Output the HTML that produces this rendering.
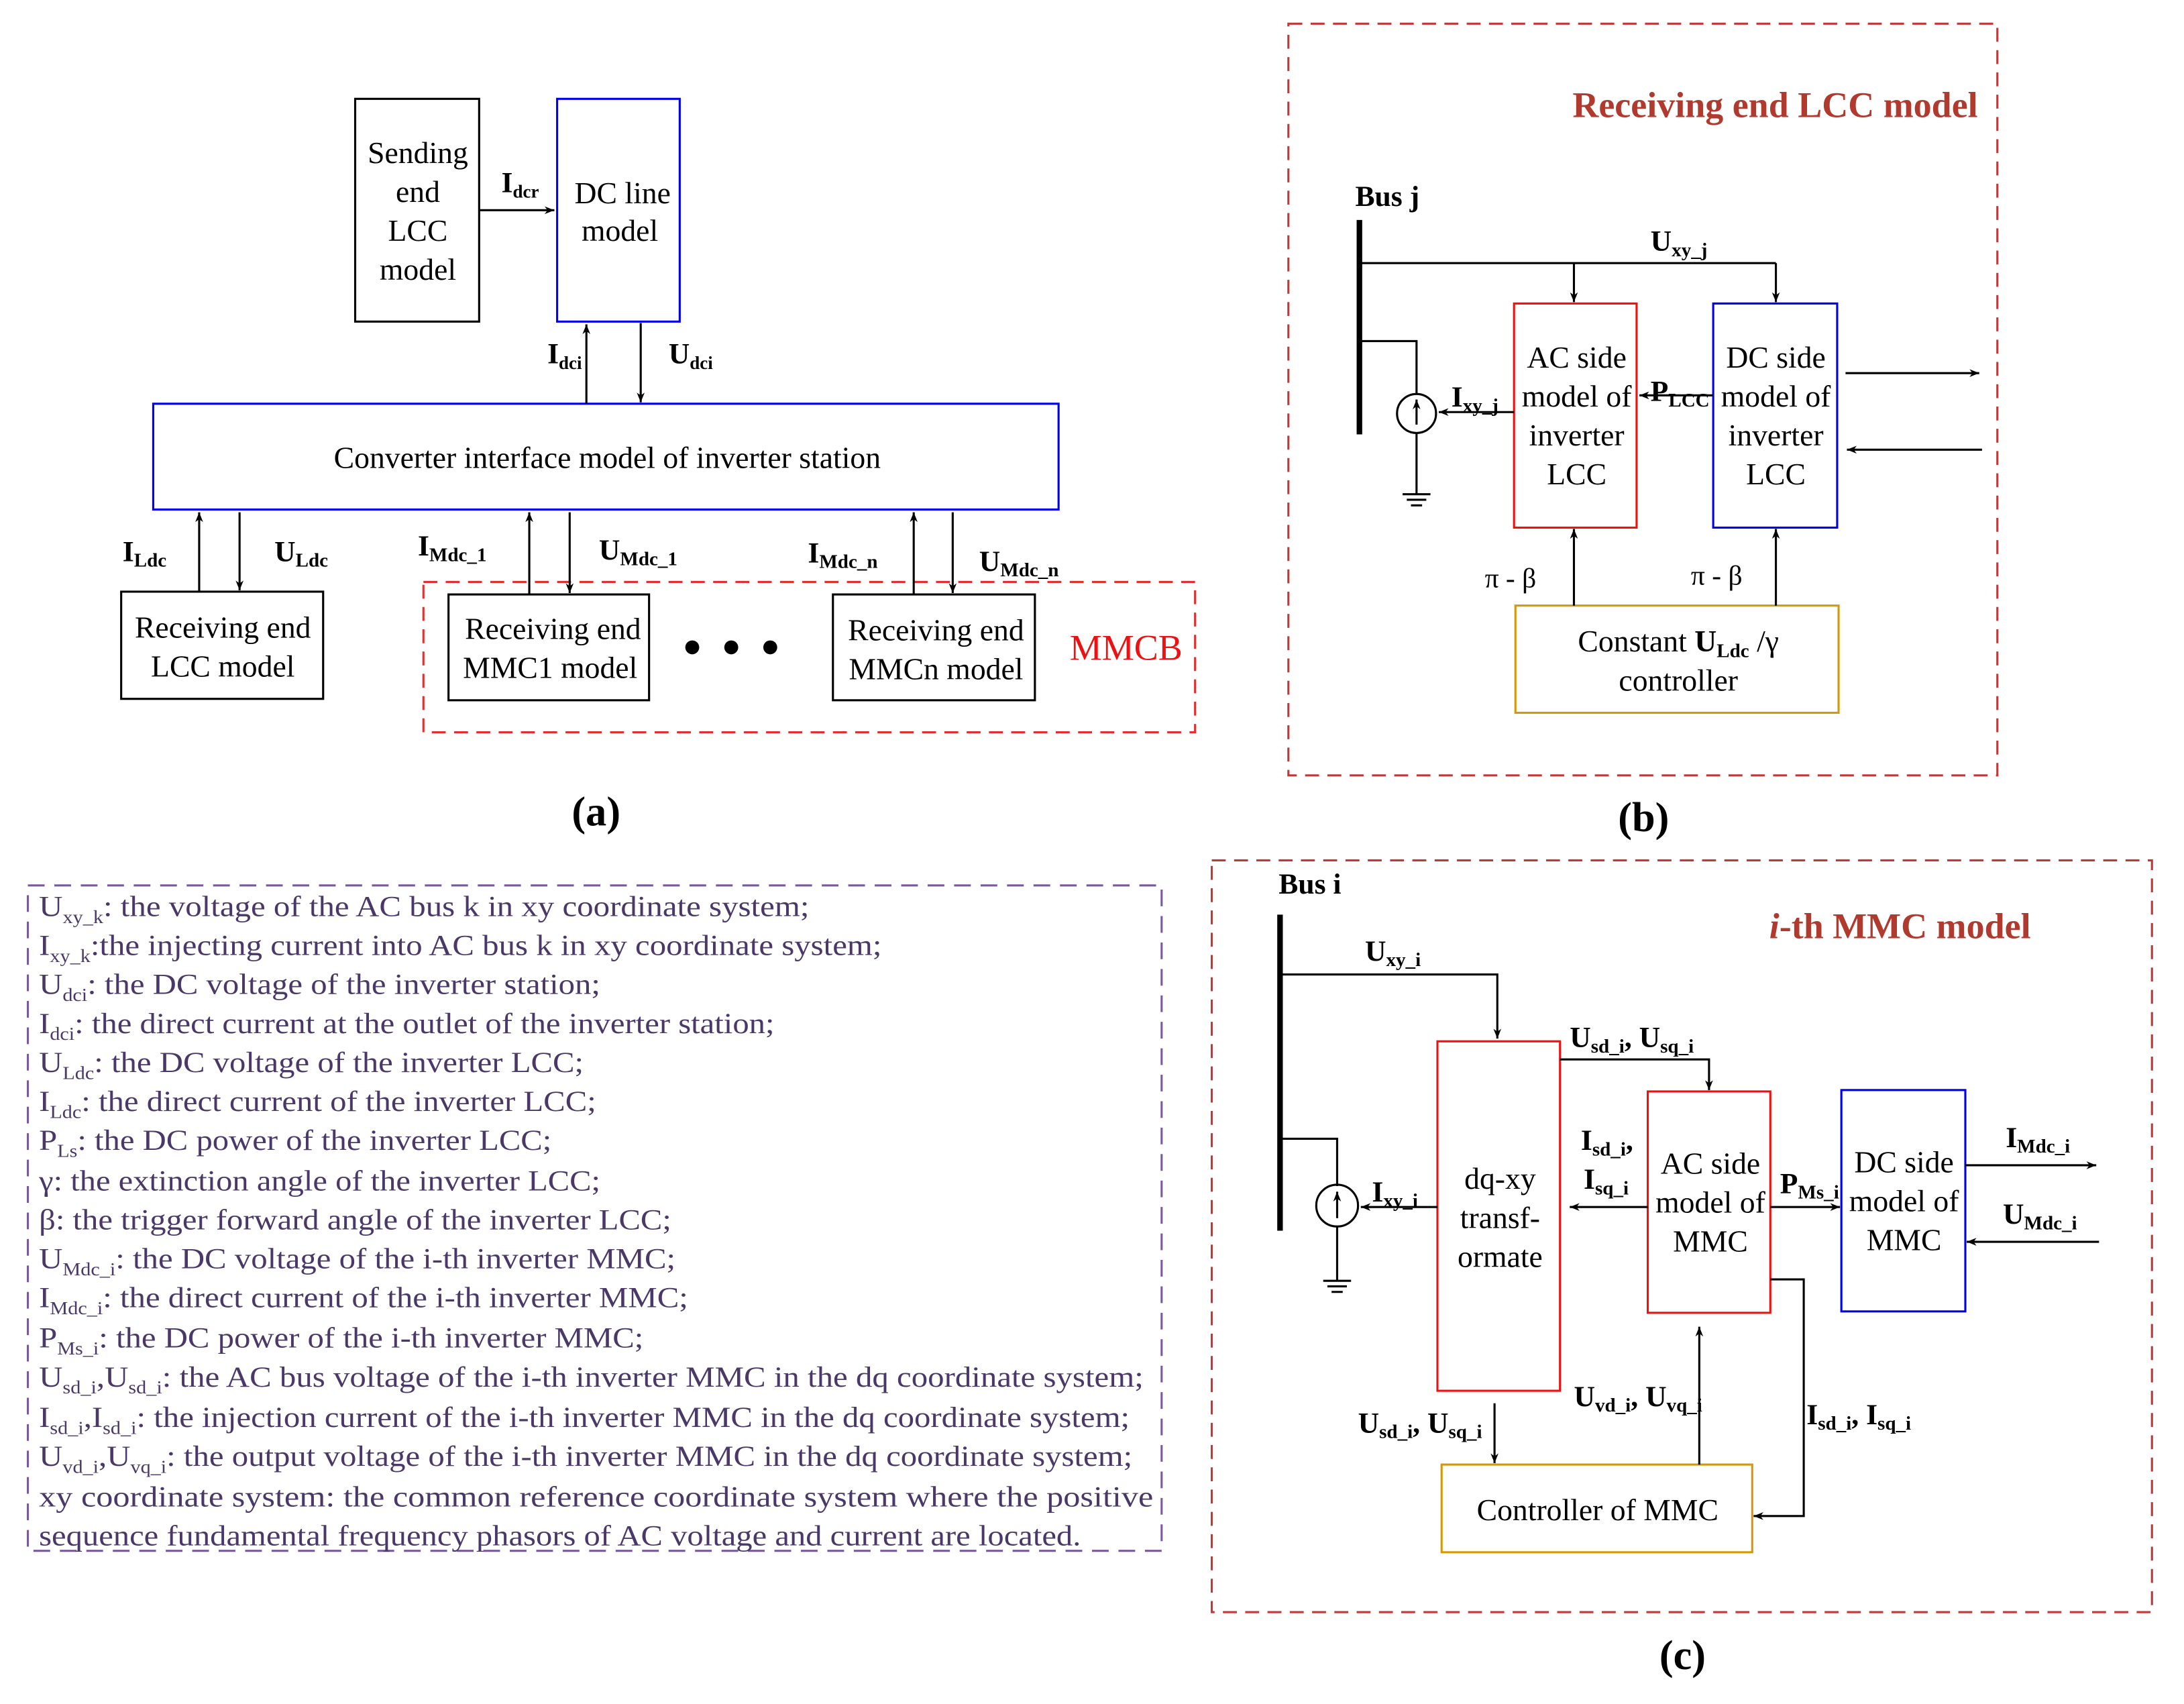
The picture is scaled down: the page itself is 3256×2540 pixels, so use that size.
<!DOCTYPE html>
<html><head><meta charset="utf-8"><style>
html,body{margin:0;padding:0;background:#fff}
svg{display:block}
text{font-family:"Liberation Serif",serif}
.b{font-weight:bold}
</style></head><body>
<svg width="3256" height="2540" viewBox="0 0 1568 1224" preserveAspectRatio="none" xmlns="http://www.w3.org/2000/svg">
<defs>
<marker id="ar" viewBox="0 0 10 10" refX="10" refY="5" markerWidth="7" markerHeight="7" orient="auto" markerUnits="userSpaceOnUse"><path d="M0,1 L10,5 L0,9 L3,5 z" fill="#000"/></marker>
</defs>
<g fill="none" stroke="#000" stroke-width="1.5">
<rect x="255" y="71" width="89" height="160"/>
<rect x="400" y="71" width="88" height="160" stroke="#0000ee"/>
<line x1="344" y1="151" x2="398" y2="151" marker-end="url(#ar)"/>
<rect x="110" y="290" width="650" height="76" stroke="#0000ee"/>
<line x1="421" y1="290" x2="421" y2="233" marker-end="url(#ar)"/>
<line x1="460" y1="232" x2="460" y2="289" marker-end="url(#ar)"/>
<rect x="87" y="425" width="145" height="77"/>
<line x1="143" y1="425" x2="143" y2="368" marker-end="url(#ar)"/>
<line x1="172" y1="368" x2="172" y2="424" marker-end="url(#ar)"/>
<rect x="304" y="418" width="554" height="108" stroke="#e03030" stroke-dasharray="10,6"/>
<rect x="322" y="427" width="144" height="76"/>
<line x1="380" y1="427" x2="380" y2="368" marker-end="url(#ar)"/>
<line x1="409" y1="368" x2="409" y2="426" marker-end="url(#ar)"/>
<rect x="598" y="427" width="145" height="76"/>
<line x1="656" y1="427" x2="656" y2="368" marker-end="url(#ar)"/>
<line x1="684" y1="368" x2="684" y2="426" marker-end="url(#ar)"/>
<rect x="925" y="17" width="509" height="540" stroke="#c03838" stroke-dasharray="10,6"/>
<line x1="976" y1="158" x2="976" y2="312" stroke-width="4"/>
<polyline points="976,189 1275,189"/>
<line x1="1130" y1="189" x2="1130" y2="217" marker-end="url(#ar)"/>
<line x1="1275" y1="189" x2="1275" y2="217" marker-end="url(#ar)"/>
<rect x="1087" y="218" width="88" height="161" stroke="#ee1111"/>
<rect x="1230" y="218" width="89" height="161" stroke="#0000ee"/>
<line x1="1230" y1="284" x2="1177" y2="284" marker-end="url(#ar)"/>
<polyline points="976,245 1017,245 1017,283"/>
<circle cx="1017" cy="297" r="14"/>
<line x1="1017" y1="305" x2="1017" y2="287" marker-end="url(#ar)"/>
<line x1="1017" y1="311" x2="1017" y2="355"/>
<line x1="1007" y1="355" x2="1027" y2="355"/><line x1="1010" y1="359" x2="1024" y2="359"/><line x1="1013" y1="363" x2="1021" y2="363"/>
<line x1="1087" y1="296" x2="1033" y2="296" marker-end="url(#ar)"/>
<line x1="1325" y1="268" x2="1421" y2="268" marker-end="url(#ar)"/>
<line x1="1423" y1="323" x2="1326" y2="323" marker-end="url(#ar)"/>
<rect x="1088" y="435" width="232" height="77" stroke="#d4980a"/>
<line x1="1130" y1="435" x2="1130" y2="380" marker-end="url(#ar)"/>
<line x1="1275" y1="435" x2="1275" y2="380" marker-end="url(#ar)"/>
<rect x="870" y="618" width="675" height="540" stroke="#c03838" stroke-dasharray="10,6"/>
<line x1="919" y1="657" x2="919" y2="884" stroke-width="4"/>
<polyline points="919,700 1075,700 1075,746" marker-end="url(#ar)"/>
<rect x="1032" y="748" width="88" height="251" stroke="#ee1111"/>
<polyline points="1120,761 1227,761 1227,783" marker-end="url(#ar)"/>
<rect x="1183" y="784" width="88" height="159" stroke="#ee1111"/>
<rect x="1322" y="783" width="89" height="159" stroke="#0000ee"/>
<line x1="1183" y1="867" x2="1127" y2="867" marker-end="url(#ar)"/>
<line x1="1271" y1="867" x2="1321" y2="867" marker-end="url(#ar)"/>
<line x1="1411" y1="837" x2="1505" y2="837" marker-end="url(#ar)"/>
<line x1="1507" y1="892" x2="1412" y2="892" marker-end="url(#ar)"/>
<polyline points="919,818 960,818 960,852"/>
<circle cx="960" cy="866" r="15"/>
<line x1="960" y1="875" x2="960" y2="856" marker-end="url(#ar)"/>
<line x1="960" y1="881" x2="960" y2="920"/>
<line x1="950" y1="920" x2="970" y2="920"/><line x1="953" y1="924" x2="967" y2="924"/><line x1="956" y1="928" x2="964" y2="928"/>
<line x1="1032" y1="867" x2="977" y2="867" marker-end="url(#ar)"/>
<rect x="1035" y="1052" width="223" height="63" stroke="#d4980a"/>
<line x1="1073" y1="1008" x2="1073" y2="1051" marker-end="url(#ar)"/>
<line x1="1220" y1="1052" x2="1220" y2="953" marker-end="url(#ar)"/>
<polyline points="1271,919 1295,919 1295,1089 1259,1089" marker-end="url(#ar)"/>
<rect x="20" y="636" width="814" height="478" stroke="#7a5a9a" stroke-dasharray="12,7"/>
</g>
<circle cx="497" cy="465" r="5"/><circle cx="525" cy="465" r="5"/><circle cx="553" cy="465" r="5"/>

<g font-size="22" text-anchor="middle">
<text x="300" y="117">Sending</text><text x="300" y="145">end</text><text x="300" y="173">LCC</text><text x="300" y="201">model</text>
<text x="447" y="146">DC line</text><text x="445" y="173">model</text>
<text x="436" y="336">Converter interface model of inverter station</text>
<text x="160" y="458">Receiving end</text><text x="160" y="486">LCC model</text>
<text x="397" y="459">Receiving end</text><text x="395" y="487">MMC1 model</text>
<text x="672" y="460">Receiving end</text><text x="672" y="488">MMCn model</text>
<text x="1132" y="264">AC side</text><text x="1132" y="292">model of</text><text x="1132" y="320">inverter</text><text x="1132" y="348">LCC</text>
<text x="1275" y="264">DC side</text><text x="1275" y="292">model of</text><text x="1275" y="320">inverter</text><text x="1275" y="348">LCC</text>
<text x="1205" y="468">Constant <tspan class="b">U</tspan><tspan class="b" font-size="14" dy="4">Ldc</tspan><tspan dy="-4"> /γ</tspan></text><text x="1205" y="496">controller</text>
<text x="1077" y="854">dq-xy</text><text x="1077" y="882">transf-</text><text x="1077" y="910">ormate</text>
<text x="1228" y="843">AC side</text><text x="1228" y="871">model of</text><text x="1228" y="899">MMC</text>
<text x="1367" y="842">DC side</text><text x="1367" y="870">model of</text><text x="1367" y="898">MMC</text>
<text x="1147" y="1092">Controller of MMC</text>
</g>
<text x="768" y="474" font-size="26" fill="#ee1111">MMCB</text>

<g font-weight="bold" font-size="21">
<text x="360" y="138">I<tspan font-size="13" dy="4">dcr</tspan></text>
<text x="393" y="261">I<tspan font-size="13" dy="4">dci</tspan></text>
<text x="480" y="261">U<tspan font-size="13" dy="4">dci</tspan></text>
<text x="88" y="403">I<tspan font-size="14" dy="4">Ldc</tspan></text>
<text x="197" y="403">U<tspan font-size="14" dy="4">Ldc</tspan></text>
<text x="300" y="399">I<tspan font-size="14" dy="4">Mdc_1</tspan></text>
<text x="430" y="402">U<tspan font-size="14" dy="4">Mdc_1</tspan></text>
<text x="580" y="404">I<tspan font-size="14" dy="4">Mdc_n</tspan></text>
<text x="703" y="410">U<tspan font-size="14" dy="4">Mdc_n</tspan></text>
<text x="973" y="148" font-size="21">Bus j</text>
<text x="1185" y="180">U<tspan font-size="14" dy="4">xy_j</tspan></text>
<text x="1185" y="288">P<tspan font-size="14" dy="4">LCC</tspan></text>
<text x="1042" y="292">I<tspan font-size="14" dy="4">xy_j</tspan></text>
<text x="918" y="642" font-size="21">Bus i</text>
<text x="980" y="690">U<tspan font-size="14" dy="4">xy_i</tspan></text>
<text x="1127" y="752">U<tspan font-size="14" dy="4">sd_i</tspan><tspan dy="-4">, U</tspan><tspan font-size="14" dy="4">sq_i</tspan></text>
<text x="1135" y="826">I<tspan font-size="14" dy="4">sd_i</tspan><tspan dy="-4">,</tspan></text>
<text x="1137" y="854">I<tspan font-size="14" dy="4">sq_i</tspan></text>
<text x="1278" y="857">P<tspan font-size="14" dy="4">Ms_i</tspan></text>
<text x="1440" y="824">I<tspan font-size="14" dy="4">Mdc_i</tspan></text>
<text x="1438" y="879">U<tspan font-size="14" dy="4">Mdc_i</tspan></text>
<text x="985" y="863">I<tspan font-size="14" dy="4">xy_i</tspan></text>
<text x="975" y="1029">U<tspan font-size="14" dy="4">sd_i</tspan><tspan dy="-4">, U</tspan><tspan font-size="14" dy="4">sq_i</tspan></text>
<text x="1130" y="1010">U<tspan font-size="14" dy="4">vd_i</tspan><tspan dy="-4">, U</tspan><tspan font-size="14" dy="4">vq_i</tspan></text>
<text x="1297" y="1023">I<tspan font-size="14" dy="4">sd_i</tspan><tspan dy="-4">, I</tspan><tspan font-size="14" dy="4">sq_i</tspan></text>
</g>
<g font-size="20">
<text x="1066" y="422">π - β</text><text x="1214" y="420">π - β</text>
</g>
<g font-size="30" font-weight="bold" text-anchor="middle">
<text x="428" y="593">(a)</text><text x="1180" y="597">(b)</text><text x="1208" y="1199">(c)</text>
</g>
<g font-size="26" font-weight="bold" fill="#b03a2e" text-anchor="end">
<text x="1420" y="84">Receiving end LCC model</text>
<text x="1458" y="674"><tspan font-style="italic">i</tspan>-th MMC model</text>
</g>

<g font-size="21" fill="#4a3868">
<text x="28" y="658" textLength="553" lengthAdjust="spacingAndGlyphs">U<tspan font-size="13" dy="5">xy_k</tspan><tspan dy="-5">: the voltage of the AC bus k in xy coordinate system;</tspan></text>
<text x="28" y="686" textLength="605" lengthAdjust="spacingAndGlyphs">I<tspan font-size="13" dy="5">xy_k</tspan><tspan dy="-5">:the injecting current into AC bus k in xy coordinate system;</tspan></text>
<text x="28" y="714" textLength="403" lengthAdjust="spacingAndGlyphs">U<tspan font-size="13" dy="5">dci</tspan><tspan dy="-5">: the DC voltage of the inverter station;</tspan></text>
<text x="28" y="742" textLength="528" lengthAdjust="spacingAndGlyphs">I<tspan font-size="13" dy="5">dci</tspan><tspan dy="-5">: the direct current at the outlet of the inverter station;</tspan></text>
<text x="28" y="770" textLength="391" lengthAdjust="spacingAndGlyphs">U<tspan font-size="13" dy="5">Ldc</tspan><tspan dy="-5">: the DC voltage of the inverter LCC;</tspan></text>
<text x="28" y="798" textLength="400" lengthAdjust="spacingAndGlyphs">I<tspan font-size="13" dy="5">Ldc</tspan><tspan dy="-5">: the direct current of the inverter LCC;</tspan></text>
<text x="28" y="826" textLength="368" lengthAdjust="spacingAndGlyphs">P<tspan font-size="13" dy="5">Ls</tspan><tspan dy="-5">: the DC power of the inverter LCC;</tspan></text>
<text x="28" y="855" textLength="403" lengthAdjust="spacingAndGlyphs">γ: the extinction angle of the inverter LCC;</text>
<text x="28" y="883" textLength="454" lengthAdjust="spacingAndGlyphs">β: the trigger forward angle of the inverter LCC;</text>
<text x="28" y="911" textLength="457" lengthAdjust="spacingAndGlyphs">U<tspan font-size="13" dy="5">Mdc_i</tspan><tspan dy="-5">: the DC voltage of the i-th inverter MMC;</tspan></text>
<text x="28" y="939" textLength="466" lengthAdjust="spacingAndGlyphs">I<tspan font-size="13" dy="5">Mdc_i</tspan><tspan dy="-5">: the direct current of the i-th inverter MMC;</tspan></text>
<text x="28" y="968" textLength="434" lengthAdjust="spacingAndGlyphs">P<tspan font-size="13" dy="5">Ms_i</tspan><tspan dy="-5">: the DC power of the i-th inverter MMC;</tspan></text>
<text x="28" y="996" textLength="793" lengthAdjust="spacingAndGlyphs">U<tspan font-size="13" dy="5">sd_i</tspan><tspan dy="-5">,U</tspan><tspan font-size="13" dy="5">sd_i</tspan><tspan dy="-5">: the AC bus voltage of the i-th inverter MMC in the dq coordinate system;</tspan></text>
<text x="28" y="1025" textLength="783" lengthAdjust="spacingAndGlyphs">I<tspan font-size="13" dy="5">sd_i</tspan><tspan dy="-5">,I</tspan><tspan font-size="13" dy="5">sd_i</tspan><tspan dy="-5">: the injection current of the i-th inverter MMC in the dq coordinate system;</tspan></text>
<text x="28" y="1053" textLength="785" lengthAdjust="spacingAndGlyphs">U<tspan font-size="13" dy="5">vd_i</tspan><tspan dy="-5">,U</tspan><tspan font-size="13" dy="5">vq_i</tspan><tspan dy="-5">: the output voltage of the i-th inverter MMC in the dq coordinate system;</tspan></text>
<text x="28" y="1082" textLength="800" lengthAdjust="spacingAndGlyphs">xy coordinate system: the common reference coordinate system where the positive</text>
<text x="28" y="1110" textLength="748" lengthAdjust="spacingAndGlyphs">sequence fundamental frequency phasors of AC voltage and current are located.</text>
</g>
</svg>
</body></html>
